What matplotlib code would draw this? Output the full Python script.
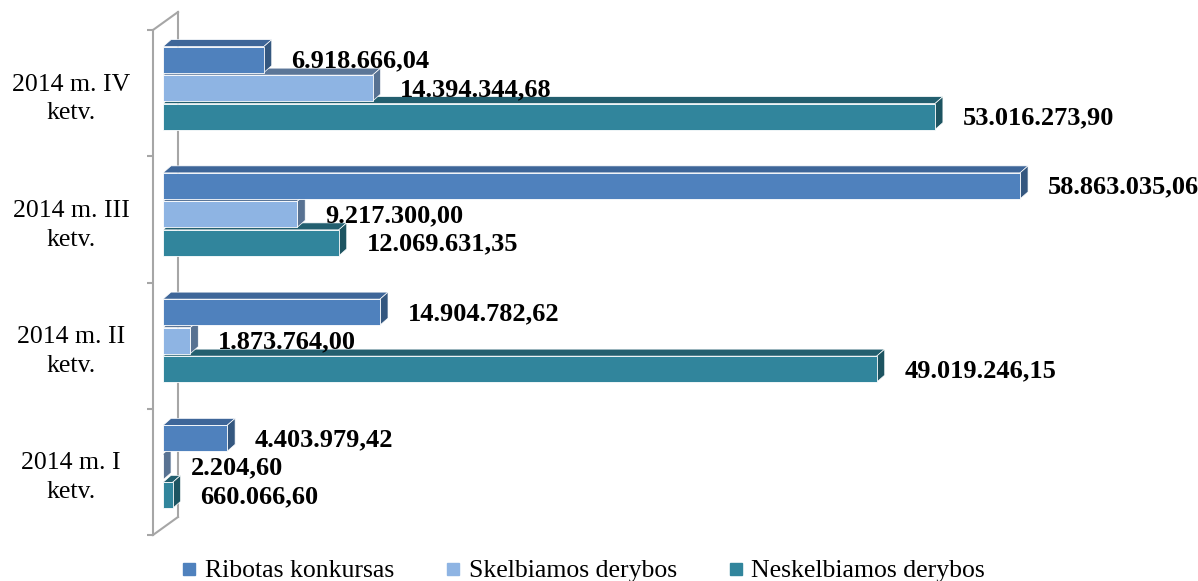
import matplotlib.pyplot as plt
from matplotlib.patches import Polygon
from matplotlib.lines import Line2D

plt.rcParams['font.family'] = ['Liberation Serif', 'DejaVu Serif']

# data (bottom category first)
categories = ['2014 m. I\nketv.', '2014 m. II\nketv.', '2014 m. III\nketv.', '2014 m. IV\nketv.']
series_names = ['Ribotas konkursas', 'Skelbiamos derybos', 'Neskelbiamos derybos']
ribotas = [4403979.42, 14904782.62, 58863035.06, 6918666.04]
skelbiamos = [2204.60, 1873764.00, 9217300.00, 14394344.68]
neskelbiamos = [660066.60, 49019246.15, 12069631.35, 53016273.90]

# front, top, side colours per series
front_cols = ['#4F81BD', '#8EB4E3', '#31859C']
top_cols = ['#3E6699', '#5B7698', '#235F6F']
side_cols = ['#34577F', '#587292', '#1D5461']
axis_col = '#A6A6A6'


def lt_format(v):
    s = f'{v:,.2f}'
    return s.replace(',', ' ').replace('.', ',').replace(' ', '.')


W, H = 1198, 581
fig = plt.figure(figsize=(W / 100, H / 100), dpi=100)
ax = fig.add_axes([153 / W, 46 / H, 1045 / W, 505 / H])

px_per_val = 14.56 / 1e6
xmin = -10 / px_per_val
ax.set_xlim(xmin, xmin + 1045 / px_per_val)
ax.set_ylim(-0.5, 3.5)

unit_y = 505 / 4
dx = 8 / px_per_val
dy = 7 / unit_y
bar_h = 26 / unit_y
pitch = 28.5 / unit_y
shift = 5 / unit_y

all_series = [ribotas, skelbiamos, neskelbiamos]
for i in range(len(categories)):
    for j in [2, 1, 0]:   # bottom bar first so upper ones cover its top face
        v = all_series[j][i]
        yc = i + shift + (1 - j) * pitch
        y0, y1 = yc - bar_h / 2, yc + bar_h / 2
        z = 3 + (2 - j)
        top = Polygon([(0, y1), (v, y1), (v + dx, y1 + dy), (dx, y1 + dy)],
                      closed=True, facecolor=top_cols[j], edgecolor='white',
                      linewidth=0.5, zorder=z)
        side = Polygon([(v, y0), (v, y1), (v + dx, y1 + dy), (v + dx, y0 + dy)],
                       closed=True, facecolor=side_cols[j], edgecolor='white',
                       linewidth=0.5, zorder=z)
        ax.add_patch(top)
        ax.add_patch(side)
        ax.barh(yc, v, height=bar_h, left=0, color=front_cols[j],
                edgecolor='white', linewidth=0.6, zorder=z)
        ax.annotate(lt_format(v), (v, yc), xytext=(20, -1), textcoords='offset points',
                    ha='left', va='center', fontsize=19, fontweight='bold',
                    color='black', zorder=10, annotation_clip=False)

# 3d wall lines
bx = 25 / 1045
by = 18 / 505
for xs, ys in [([0, bx], [1, 1 + by]), ([bx, bx], [1 + by, by]), ([0, bx], [0, by])]:
    ax.add_line(Line2D(xs, ys, transform=ax.transAxes, color=axis_col, lw=1.5,
                       clip_on=False, zorder=1))

for sp in ['top', 'right', 'bottom']:
    ax.spines[sp].set_visible(False)
ax.spines['left'].set_color(axis_col)
ax.spines['left'].set_linewidth(1.5)
ax.set_xticks([])
ax.set_yticks([-0.5, 0.5, 1.5, 2.5, 3.5])
ax.set_yticklabels([])
ax.tick_params(axis='y', which='major', length=4.5, width=1.5, color=axis_col)
ax.set_yticks(range(len(categories)), minor=True)
ax.set_yticklabels(categories, minor=True, fontsize=18.5)
ax.tick_params(axis='y', which='minor', length=0, pad=59)
for lab in ax.get_yticklabels(minor=True):
    lab.set_horizontalalignment('center')
    lab.set_multialignment('center')
    lab.set_linespacing(1.4)

handles = [Line2D([], [], marker='s', linestyle='', color=c, markersize=8.5) for c in front_cols]
fig.legend(handles, series_names, loc='center', bbox_to_anchor=(0.487, 10 / H), ncol=3,
           frameon=False, fontsize=18.5, handlelength=0.6, handletextpad=0.3,
           columnspacing=2.0, borderpad=0)

fig.savefig('out.png', dpi=100)
